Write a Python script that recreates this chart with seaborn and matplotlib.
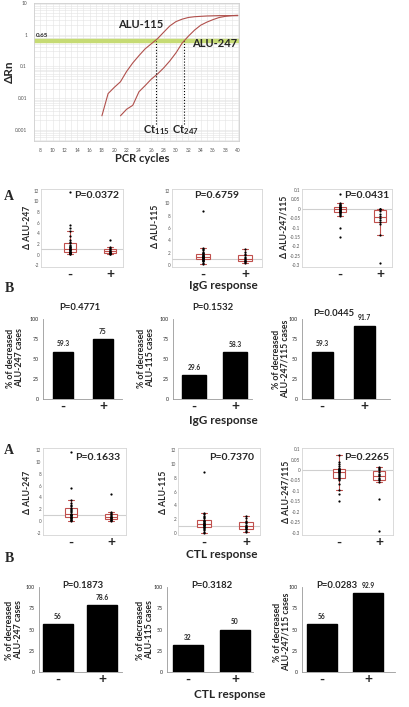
import numpy as np
import pandas as pd
import matplotlib.pyplot as plt
import seaborn as sns

sns.set_style("white")
plt.rcParams['font.family'] = ['Lato', 'DejaVu Sans']
plt.rcParams['mathtext.fontset'] = 'custom'
plt.rcParams['mathtext.rm'] = 'Lato'
plt.rcParams['mathtext.bf'] = 'Lato:bold'

# ---- amplification curves (top panel) ----
cyc_115 = [18, 19, 20, 21, 22, 23, 24, 25, 26, 27, 28, 29, 30, 31, 32, 33, 34, 35, 36, 37, 38, 39, 40]
rn_115 = [0.0028, 0.014, 0.022, 0.033, 0.07, 0.13, 0.22, 0.36, 0.52, 0.75, 1.2, 1.9, 2.6, 3.1,
          3.5, 3.7, 3.8, 3.9, 3.95, 4.0, 4.0, 4.0, 4.0]
cyc_247 = [21, 22, 23, 24, 25, 26, 27, 28, 29, 30, 31, 32, 33, 34, 35, 36, 37, 38, 39, 40]
rn_247 = [0.0028, 0.0045, 0.006, 0.016, 0.025, 0.04, 0.058, 0.09, 0.15, 0.27, 0.55, 0.9, 1.4,
          2.0, 2.5, 3.0, 3.5, 3.8, 4.0, 4.1]
threshold = 0.65
ct_115 = 26.8
ct_247 = 31.3
cycle_ticks = list(range(8, 41, 2))

groups = ['-', '+']

# ---- IgG response: per-patient deltas ----
igg_247 = {'-': [0.1, 0.2, 0.3, 0.3, 0.4, 0.5, 0.5, 0.6, 0.7, 0.8, 0.9, 1.0, 1.0, 1.1, 1.2, 1.4,
                 1.5, 1.7, 1.9, 2.1, 2.4, 2.8, 3.5, 4.5, 5.0, 5.6, 11.7],
           '+': [0.1, 0.2, 0.3, 0.4, 0.5, 0.6, 0.7, 0.8, 1.0, 1.2, 1.4, 2.8]}
igg_115 = {'-': [0.2, 0.4, 0.6, 0.7, 0.8, 0.9, 1.0, 1.0, 1.1, 1.2, 1.2, 1.3, 1.3, 1.3, 1.4, 1.5,
                 1.5, 1.6, 1.7, 1.8, 1.9, 2.0, 2.2, 2.4, 2.6, 2.8, 8.8],
           '+': [0.3, 0.5, 0.6, 0.7, 0.9, 1.0, 1.1, 1.3, 1.6, 1.8, 2.2, 2.6]}
igg_ratio = {'-': [-0.15, -0.1, -0.04, -0.035, -0.03, -0.025, -0.02, -0.02, -0.015, -0.01, -0.01,
                   -0.005, -0.005, 0.0, 0.0, 0.0, 0.005, 0.005, 0.01, 0.01, 0.01, 0.015, 0.02,
                   0.02, 0.025, 0.03, 0.08],
             '+': [-0.29, -0.14, -0.08, -0.07, -0.06, -0.05, -0.04, -0.03, -0.01, 0.0, 0.0, 0.0]}
igg_box_p = ['P=0.0372', 'P=0.6759', 'P=0.0431']
igg_pct_247 = [59.3, 75]
igg_pct_115 = [29.6, 58.3]
igg_pct_ratio = [59.3, 91.7]
igg_bar_p = ['P=0.4771', 'P=0.1532', 'P=0.0445']

# ---- CTL response: per-patient deltas ----
ctl_247 = {'-': [0.0, 0.2, 0.3, 0.4, 0.5, 0.6, 0.7, 0.8, 0.9, 1.0, 1.0, 1.1, 1.2, 1.3, 1.5, 1.7,
                 1.9, 2.1, 2.3, 2.5, 2.8, 3.1, 3.5, 5.6, 11.7],
           '+': [0.1, 0.2, 0.3, 0.4, 0.5, 0.6, 0.7, 0.8, 0.9, 1.0, 1.2, 1.4, 1.5, 4.6]}
ctl_115 = {'-': [0.0, 0.2, 0.4, 0.6, 0.7, 0.8, 0.9, 1.0, 1.1, 1.2, 1.2, 1.3, 1.3, 1.4, 1.5, 1.6,
                 1.7, 1.8, 1.9, 2.1, 2.3, 2.5, 2.7, 2.9, 8.8],
           '+': [0.1, 0.3, 0.5, 0.6, 0.7, 0.8, 0.9, 1.0, 1.2, 1.4, 1.6, 1.8, 2.1, 2.5]}
ctl_ratio = {'-': [-0.15, -0.115, -0.095, -0.065, -0.05, -0.045, -0.04, -0.035, -0.03, -0.025,
                   -0.02, -0.015, -0.01, -0.01, -0.005, -0.005, 0.0, 0.0, 0.005, 0.005, 0.01,
                   0.02, 0.03, 0.04, 0.07],
             '+': [-0.29, -0.14, -0.055, -0.05, -0.045, -0.04, -0.03, -0.025, -0.02, -0.01, 0.0,
                   0.005, 0.01, 0.015]}
ctl_box_p = ['P=0.1633', 'P=0.7370', 'P=0.2265']
ctl_pct_247 = [56, 78.6]
ctl_pct_115 = [32, 50]
ctl_pct_ratio = [56, 92.9]
ctl_bar_p = ['P=0.1873', 'P=0.3182', 'P=0.0283']

box_ylabels = ['\u0394 ALU-247', '\u0394 ALU-115', '\u0394 ALU-247/115']
bar_ylabels = ['% of decreased\nALU-247 cases', '% of decreased\nALU-115 cases',
               '% of decreased\nALU-247/115 cases']

W, H = 409, 707
fig = plt.figure(figsize=(W / 100, H / 100), dpi=100)
RED = '#c0504d'


def px_axes(l, t, r, b):
    return fig.add_axes([l / W, 1 - b / H, (r - l) / W, (b - t) / H])


def ftext(x, y, s, **kw):
    fig.text(x / W, 1 - y / H, s, ha=kw.pop('ha', 'center'), va=kw.pop('va', 'center'), **kw)


# ================= top: amplification plot =================
ax = px_axes(34, 3, 239, 141)
sns.lineplot(x=cyc_115, y=rn_115, ax=ax, color='#b0504c', lw=0.8)
sns.lineplot(x=cyc_247, y=rn_247, ax=ax, color='#b0504c', lw=0.8)
ax.set_yscale('log')
ax.set_xlim(7, 40.2)
ax.set_ylim(0.00045, 10)
ax.axhline(threshold, color='#c6db74', lw=3.2, zorder=1)
ax.vlines([ct_115, ct_247], 0.0016, threshold, colors='k', linestyles=':', lw=0.8)
ax.set_xticks(cycle_ticks)
ax.set_xticklabels([str(c) for c in cycle_ticks])
ax.set_xticks(np.arange(7, 41, 1), minor=True)
ax.set_yticks([10, 1, 0.1, 0.01, 0.001])
ax.set_yticklabels(['10', '1', '0.1', '0.01', '0.001'])
ax.grid(True, which='both', color='#e3e3e3', lw=0.4)
ax.tick_params(which='both', labelsize=3.5, labelcolor='#555555', length=1.5, color='#999999')
ax.tick_params(which='minor', length=0)
for s in ax.spines.values():
    s.set_color('#d0d0d0')
    s.set_linewidth(0.6)
ax.text(7.3, 0.78, '0.65', fontsize=4.5, fontweight='bold', va='bottom')
ax.text(24.3, 2.1, 'ALU-115', fontsize=8, fontweight='bold', ha='center', va='center')
ax.text(36.3, 0.52, 'ALU-247', fontsize=8, fontweight='bold', ha='center', va='center')
ax.text(ct_115, 0.001, r'$\mathbf{Ct_{115}}$', fontsize=8, ha='center', va='center')
ax.text(ct_247 + 0.2, 0.001, r'$\mathbf{Ct_{247}}$', fontsize=8, ha='center', va='center')
ax.set_xlabel('')
ax.set_ylabel('')
ftext(9, 72, '\u0394Rn', fontsize=8.5, fontweight='bold', rotation=90)
ftext(142, 159, 'PCR cycles', fontsize=8, fontweight='bold')


def box_panel(box, centers, data, ylim, yticks, ref, ptxt, ppos, ylabel, ylpos):
    l, t, r, b = box
    ax = px_axes(l, t, r, b)
    unit = centers[1] - centers[0]
    df = pd.DataFrame({'grp': [g for g in groups for _ in data[g]],
                       'val': [v for g in groups for v in data[g]]})
    ax.axhline(ref, color='#cfcfcf', lw=0.8, zorder=0)
    sns.boxplot(data=df, x='grp', y='val', order=groups, ax=ax, width=0.32, color='white',
                linecolor=RED, linewidth=0.8, showfliers=False, whis=1.5)
    sns.stripplot(data=df, x='grp', y='val', order=groups, ax=ax, color='black', size=1.6,
                  jitter=False)
    ax.set_xlim((l - centers[0]) / unit, (r - centers[0]) / unit)
    ax.set_ylim(*ylim)
    ax.set_yticks(yticks)
    ax.set_yticklabels([f'{v:g}' for v in yticks])
    ax.tick_params(axis='y', labelsize=3.3, labelcolor='#555555', length=0, pad=1.2)
    ax.tick_params(axis='x', labelsize=10, length=0, pad=1)
    for lab in ax.get_xticklabels():
        lab.set_fontweight('bold')
    for s in ax.spines.values():
        s.set_color('#d5d5d5')
        s.set_linewidth(0.6)
    ax.set_xlabel('')
    ax.set_ylabel('')
    ftext(ppos[0], ppos[1], ptxt, fontsize=7.5, fontweight='bold')
    ftext(ylpos[0], ylpos[1], ylabel, fontsize=6.2, fontweight='bold', rotation=90)


def bar_panel(box, centers, bar_px, vals, ptxt, ppos, ylabel, ylpos):
    l, t, r, b = box
    ax = px_axes(l, t, r, b)
    unit = centers[1] - centers[0]
    sns.barplot(x=groups, y=vals, ax=ax, color='black', saturation=1, width=bar_px / unit,
                edgecolor='black')
    ax.bar_label(ax.containers[0], labels=[f'{v:g}' for v in vals], padding=3, fontsize=4.8,
                 fontweight='bold')
    ax.set_xlim((l - centers[0]) / unit, (r - centers[0]) / unit)
    ax.set_ylim(0, 100)
    ax.set_yticks([0, 25, 50, 75, 100])
    ax.tick_params(axis='y', labelsize=3.8, length=2, width=0.5, color='#888888', pad=1.0)
    ax.tick_params(axis='x', labelsize=10, length=0, pad=1)
    for lab in ax.get_xticklabels():
        lab.set_fontweight('bold')
    sns.despine(ax=ax)
    for s in ['left', 'bottom']:
        ax.spines[s].set_color('#999999')
        ax.spines[s].set_linewidth(0.6)
    ax.set_xlabel('')
    ax.set_ylabel('')
    ftext(ppos[0], ppos[1], ptxt, fontsize=6.8, fontweight='bold')
    ftext(ylpos[0], ylpos[1], ylabel, fontsize=6.3, fontweight='bold', rotation=90,
          linespacing=1.0)


ratio_ticks = [0.1, 0.05, 0, -0.05, -0.1, -0.15, -0.2, -0.25, -0.3]

# ================= IgG row A =================
ftext(9, 197, 'A', fontsize=10, fontweight='bold', family='Liberation Serif')
box_panel((41, 189, 123, 267), (70, 110), igg_247, (-2.3, 12.3), list(range(-2, 13, 2)), 1,
          igg_box_p[0], (97, 196), box_ylabels[0], (27, 227))
box_panel((172, 189, 262, 267), (203, 245), igg_115, (-0.3, 12.3), list(range(0, 13, 2)), 1,
          igg_box_p[1], (217, 196), box_ylabels[1], (155, 226))
box_panel((302, 189, 392, 267), (340, 380), igg_ratio, (-0.31, 0.105), ratio_ticks, 0,
          igg_box_p[2], (367, 196), box_ylabels[2], (284, 227))
ftext(223, 285, 'IgG response', fontsize=8.5, fontweight='bold')

# ================= IgG row B =================
ftext(9, 289, 'B', fontsize=10, fontweight='bold', family='Liberation Serif')
bar_panel((43, 319, 122, 399), (63, 103), 20, igg_pct_247, igg_bar_p[0], (80, 308),
          bar_ylabels[0], (15, 358))
bar_panel((173, 319, 252, 399), (194, 235), 24, igg_pct_115, igg_bar_p[1], (213, 308),
          bar_ylabels[1], (146, 358))
bar_panel((302, 319, 390, 399), (322, 364), 21, igg_pct_ratio, igg_bar_p[2], (334, 314),
          bar_ylabels[2], (281, 359))
ftext(223, 421, 'IgG response', fontsize=8.5, fontweight='bold')

# ================= CTL row A =================
ftext(9, 450, 'A', fontsize=10, fontweight='bold', family='Liberation Serif')
box_panel((43, 448, 126, 535), (71, 111), ctl_247, (-2.3, 12.3), list(range(-2, 13, 2)), 1,
          ctl_box_p[0], (98, 458), box_ylabels[0], (28, 492))
box_panel((178, 448, 260, 535), (204, 246), ctl_115, (-0.3, 12.3), list(range(0, 13, 2)), 1,
          ctl_box_p[1], (232, 458), box_ylabels[1], (163, 492))
box_panel((302, 448, 393, 535), (339, 379), ctl_ratio, (-0.31, 0.105), ratio_ticks, 0,
          ctl_box_p[2], (367, 458), box_ylabels[2], (286, 492))
ftext(222, 555, 'CTL response', fontsize=8.5, fontweight='bold')

# ================= CTL row B =================
ftext(9, 559, 'B', fontsize=10, fontweight='bold', family='Liberation Serif')
bar_panel((39, 587, 122, 672), (58, 102), 30, ctl_pct_247, ctl_bar_p[0], (83, 585),
          bar_ylabels[0], (14, 630))
bar_panel((167, 587, 253, 672), (188, 235), 30, ctl_pct_115, ctl_bar_p[1], (212, 585),
          bar_ylabels[1], (145, 630))
bar_panel((302, 587, 395, 672), (322, 368), 30, ctl_pct_ratio, ctl_bar_p[2], (337, 585),
          bar_ylabels[2], (282, 632))
ftext(230, 695, 'CTL response', fontsize=8.5, fontweight='bold')

fig.savefig('out.png', dpi=100)
